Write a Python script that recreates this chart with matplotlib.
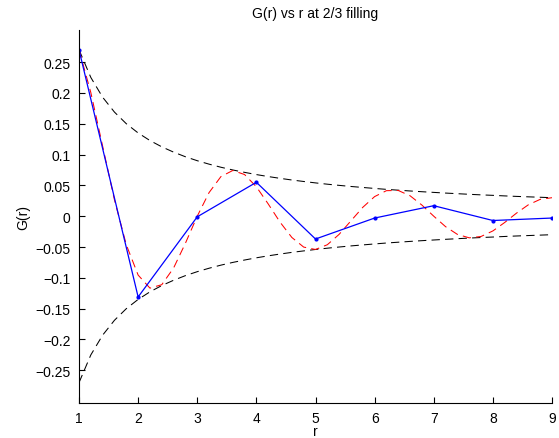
import matplotlib
matplotlib.use('Agg')
import matplotlib.pyplot as plt

# measured G(r) at integer separations
r_pts = [1, 2, 3, 4, 5, 6, 7, 8, 9]
g_pts = [0.270, -0.131, -0.001, 0.055, -0.037, -0.003, 0.017, -0.007, -0.003]

r_fine = [1.0, 1.2, 1.4, 1.6, 1.8, 2.0, 2.2, 2.4, 2.6, 2.8,
          3.0, 3.2, 3.4, 3.6, 3.8, 4.0, 4.2, 4.4, 4.6, 4.8,
          5.0, 5.2, 5.4, 5.6, 5.8, 6.0, 6.2, 6.4, 6.6, 6.8,
          7.0, 7.2, 7.4, 7.6, 7.8, 8.0, 8.2, 8.4, 8.6, 8.8, 9.0]
g_fit = [0.2700, 0.2005, 0.1134, 0.0264, -0.0464, -0.0955, -0.1167, -0.1111, -0.0840, -0.0438,
         0.0000, 0.0383, 0.0642, 0.0741, 0.0676, 0.0477, 0.0199, -0.0096, -0.0345, -0.0501,
         -0.0540, -0.0463, -0.0294, -0.0075, 0.0144, 0.0318, 0.0414, 0.0417, 0.0331, 0.0180,
         0.0000, -0.0170, -0.0295, -0.0351, -0.0329, -0.0239, -0.0102, 0.0050, 0.0185, 0.0273,
         0.0300]
env_up = [0.2700, 0.2250, 0.1929, 0.1688, 0.1500, 0.1350, 0.1227, 0.1125, 0.1039, 0.0964,
          0.0900, 0.0844, 0.0794, 0.0750, 0.0711, 0.0675, 0.0643, 0.0614, 0.0587, 0.0563,
          0.0540, 0.0519, 0.0500, 0.0482, 0.0466, 0.0450, 0.0435, 0.0422, 0.0409, 0.0397,
          0.0386, 0.0375, 0.0365, 0.0355, 0.0346, 0.0338, 0.0329, 0.0321, 0.0314, 0.0307,
          0.0300]
env_low = [-v for v in env_up]

yticks = [-0.25, -0.2, -0.15, -0.1, -0.05, 0, 0.05, 0.1, 0.15, 0.2, 0.25]
ytick_labels = ['\u22120.25', '\u22120.2', '\u22120.15', '\u22120.1', '\u22120.05', '0',
                '0.05', '0.1', '0.15', '0.2', '0.25']

plt.rcParams['font.family'] = ['Liberation Sans', 'DejaVu Sans']
plt.rcParams['font.size'] = 10

fig = plt.figure(figsize=(5.59, 4.39), dpi=100)
ax = fig.add_axes([79/559, 35/439, 473/559, 373/439])

dash = (0, (8, 5))
ax.plot(r_fine, env_up, color='k', lw=0.75, linestyle=dash)
ax.plot(r_fine, env_low, color='k', lw=0.75, linestyle=dash)
ax.plot(r_fine, g_fit, color='r', lw=0.75, linestyle=dash)
ax.plot(r_pts, g_pts, color='b', lw=0.9, marker='.', markersize=4)

ax.set_xlim(1, 9)
ax.set_ylim(-0.303, 0.302)
ax.set_xticks(r_pts)
ax.set_yticks(yticks)
ax.set_yticklabels(ytick_labels)
ax.tick_params(direction='in', length=4, width=0.8, pad=6)
ax.spines['top'].set_visible(False)
ax.spines['right'].set_visible(False)

ax.set_title('G(r) vs r at 2/3 filling', fontsize=10, pad=9)
ax.set_xlabel('r', labelpad=-1)
ax.set_ylabel('G(r)', labelpad=4)

fig.savefig('out.png', dpi=100)
